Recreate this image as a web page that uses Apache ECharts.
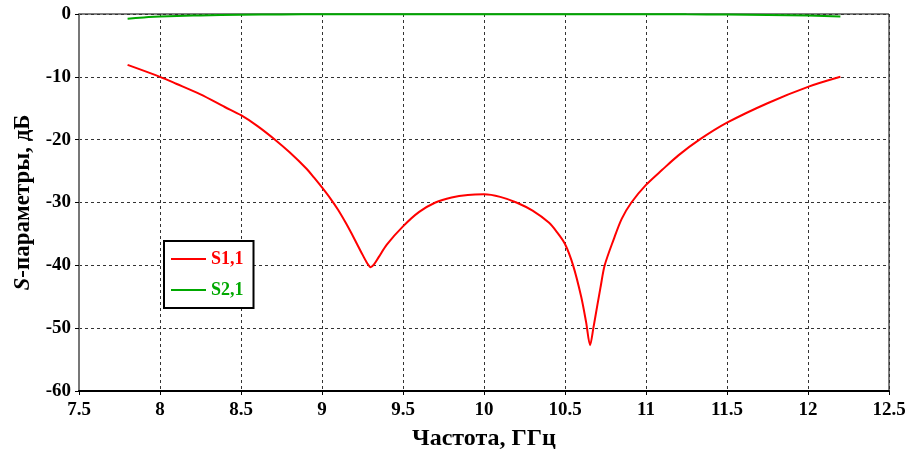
<!DOCTYPE html>
<html>
<head>
<meta charset="utf-8">
<script src="https://cdn.jsdelivr.net/npm/echarts@6/dist/echarts.min.js"></script>
<style>
    html, body { margin: 0; padding: 0; background: #fff; }
    #chart { width: 905px; height: 450px; }
</style>
</head>
<body>
<div id="chart"></div>
<script>
// Frequencies (GHz) and S-parameters (dB)
var s11Freq = [7.8, 8.0, 8.1, 8.25, 8.4, 8.5, 8.6, 8.71, 8.8, 8.9, 8.95, 9.0, 9.05, 9.1, 9.15, 9.2, 9.25, 9.28, 9.3,
    9.32, 9.35, 9.4, 9.5, 9.6, 9.7, 9.8, 9.9, 10.0, 10.1, 10.2, 10.3, 10.4, 10.45, 10.5, 10.55, 10.6, 10.63,
    10.655, 10.675, 10.7, 10.72, 10.745, 10.8, 10.85, 10.91, 11.0, 11.1, 11.2, 11.33, 11.5, 11.75, 12.0, 12.2];
var s11Values = [-8.1, -10.0, -11.1, -12.8, -14.8, -16.1, -17.8, -20.0, -22.0, -24.5, -26.0, -27.6, -29.3, -31.2, -33.4, -35.8, -38.3, -39.7, -40.3,
    -39.9, -38.7, -36.7, -33.8, -31.5, -30.0, -29.2, -28.8, -28.7, -29.1, -30.0, -31.3, -33.2, -34.7, -36.6, -40.0, -45.0, -49.0,
    -52.7, -50.0, -46.3, -43.4, -40.0, -35.9, -32.6, -30.0, -27.2, -24.8, -22.5, -20.0, -17.3, -14.2, -11.6, -10.0];

var s21Freq = [7.8, 7.9, 8.0, 8.25, 8.5, 8.75, 9.0, 9.5, 10.0, 10.5, 11.0, 11.25, 11.5, 11.75, 12.0, 12.2];
var s21Values = [-0.75, -0.55, -0.4, -0.22, -0.12, -0.06, -0.03, -0.02, -0.02, -0.02, -0.03, -0.05, -0.08, -0.15, -0.25, -0.4];

var xTicks = { min: 7.5, max: 12.5, step: 0.5 };
var yTicks = { min: -60, max: 0, step: 10 };

function zipPoints(xs, ys) {
    return xs.map(function(x, i) { return [x, ys[i]]; });
}

var chart = echarts.init(document.getElementById('chart'));

var fontFamily = '"Liberation Serif", "DejaVu Serif", serif';
var legendIcon = 'path://M0,6 L35,6 L35,8 L0,8 Z';

var option = {
    backgroundColor: '#fff',
    animation: false,
    grid: {
        left: 79,
        right: 16,
        top: 14,
        bottom: 59,
        outerBoundsMode: 'none',
        containLabel: false,
        show: true,
        borderColor: '#000',
        borderWidth: 1,
        backgroundColor: 'transparent'
    },
    legend: {
        orient: 'vertical',
        left: 164,
        top: 241,
        padding: [9, 10, 9, 7],
        itemWidth: 35,
        itemHeight: 14,
        itemGap: 13,
        borderColor: '#000',
        borderWidth: 2,
        backgroundColor: '#fff',
        textStyle: {
            fontFamily: fontFamily,
            fontWeight: 'bold',
            fontSize: 18
        },
        data: [
            { name: 'S1,1', icon: legendIcon, textStyle: { color: '#ff0000' } },
            { name: 'S2,1', icon: legendIcon, textStyle: { color: '#00a800' } }
        ]
    },
    xAxis: {
        type: 'value',
        min: xTicks.min,
        max: xTicks.max,
        interval: xTicks.step,
        name: 'Частота, ГГц',
        nameLocation: 'middle',
        nameGap: 36,
        nameTextStyle: {
            fontFamily: fontFamily,
            fontWeight: 'bold',
            fontSize: 24,
            color: '#000'
        },
        axisLine: { onZero: false, lineStyle: { color: '#000', width: 2 } },
        axisTick: { show: true, length: 4, lineStyle: { color: '#000', width: 1 } },
        axisLabel: {
            fontFamily: fontFamily,
            fontWeight: 'bold',
            fontSize: 19,
            color: '#000',
            margin: 10
        },
        splitLine: {
            show: true,
            lineStyle: { color: '#333', type: [3, 3], width: 1 }
        }
    },
    yAxis: {
        type: 'value',
        min: yTicks.min,
        max: yTicks.max,
        interval: yTicks.step,
        name: '{i|S}-параметры, дБ',
        nameLocation: 'middle',
        nameGap: 44,
        nameRotate: 90,
        nameTextStyle: {
            fontFamily: fontFamily,
            fontWeight: 'bold',
            fontSize: 23,
            color: '#000',
            rich: {
                i: {
                    fontFamily: fontFamily,
                    fontWeight: 'bold',
                    fontStyle: 'italic',
                    fontSize: 23,
                    color: '#000'
                }
            }
        },
        axisLine: { show: true, onZero: false, lineStyle: { color: '#777', width: 2 } },
        axisTick: { show: true, length: 4, lineStyle: { color: '#000', width: 1 } },
        axisLabel: {
            fontFamily: fontFamily,
            fontWeight: 'bold',
            fontSize: 19,
            color: '#000',
            margin: 8
        },
        splitLine: {
            show: true,
            lineStyle: { color: '#333', type: [3, 3], width: 1 }
        }
    },
    series: [
        {
            name: 'S1,1',
            type: 'line',
            smooth: 0.3,
            symbol: 'none',
            clip: false,
            lineStyle: { color: '#ff0000', width: 2 },
            itemStyle: { color: '#ff0000' },
            data: zipPoints(s11Freq, s11Values)
        },
        {
            name: 'S2,1',
            type: 'line',
            smooth: true,
            symbol: 'none',
            clip: false,
            lineStyle: { color: '#00a800', width: 2 },
            itemStyle: { color: '#00a800' },
            data: zipPoints(s21Freq, s21Values)
        }
    ]
};

chart.setOption(option);
</script>
</body>
</html>
